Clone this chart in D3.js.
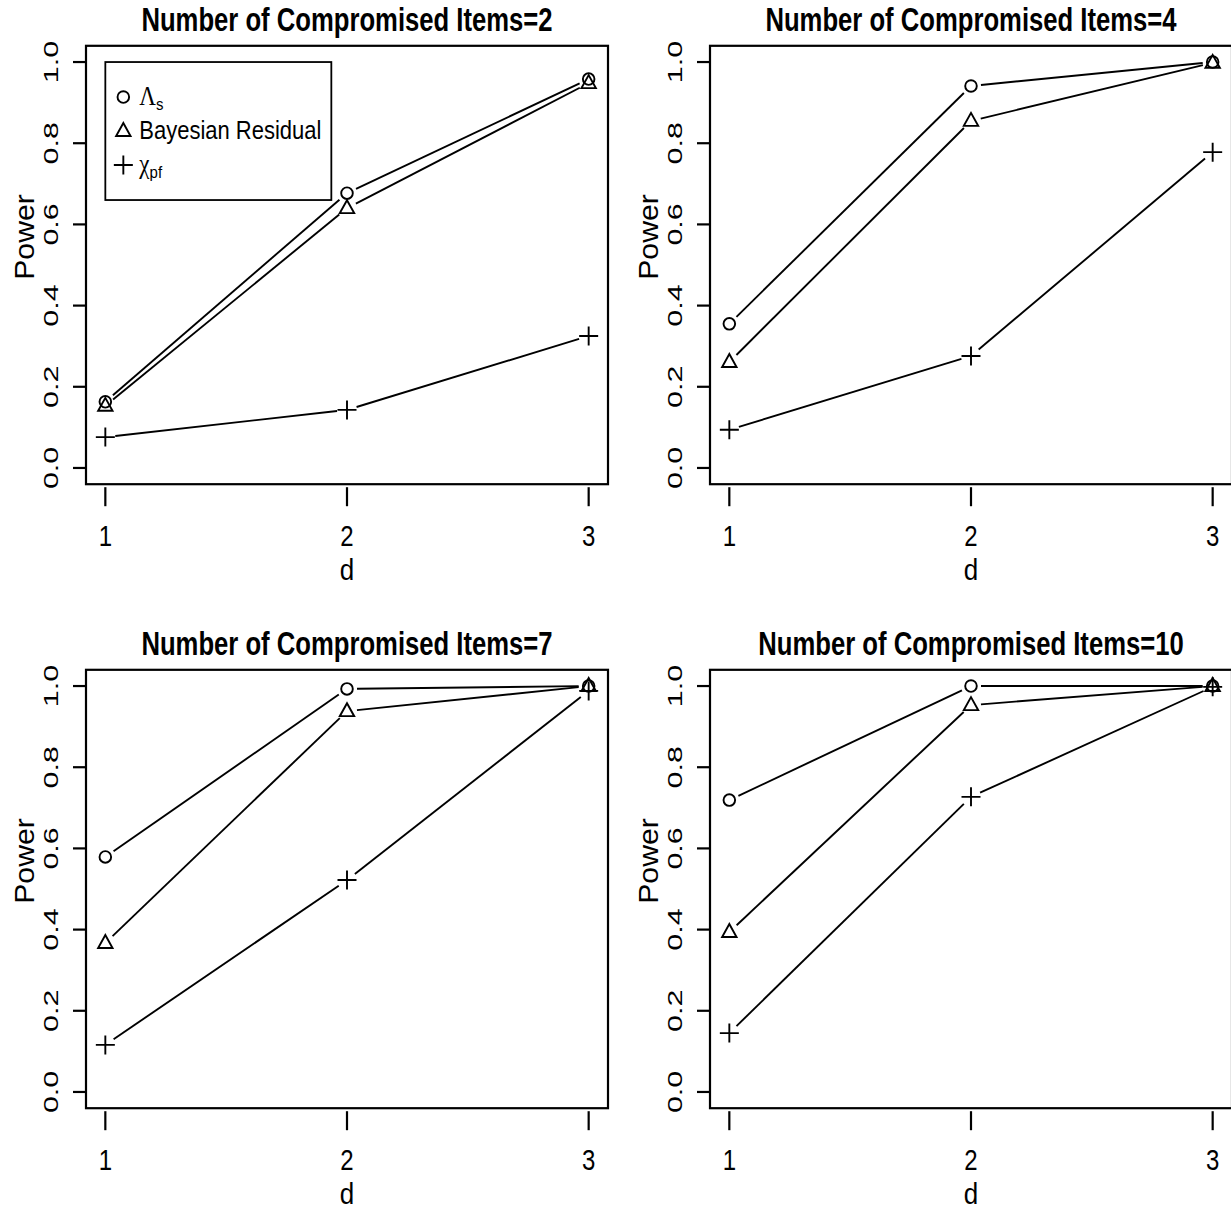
<!DOCTYPE html>
<html><head><meta charset="utf-8">
<script src="https://cdn.jsdelivr.net/npm/d3@7"></script>
<style>body{margin:0;background:#fff}svg{display:block}</style>
</head><body>
<script>
const dValues = [1, 2, 3];
const panelTitles = ["Number of Compromised Items=2","Number of Compromised Items=4","Number of Compromised Items=7","Number of Compromised Items=10"];
const lambdaS = [[0.163,0.677,0.958],[0.355,0.941,1.0],[0.579,0.993,1.0],[0.719,1.0,1.0]];
const bayesRes = [[0.153,0.640,0.948],[0.261,0.855,0.998],[0.367,0.938,1.0],[0.394,0.953,1.0]];
const chiPf = [[0.076,0.143,0.325],[0.094,0.276,0.778],[0.116,0.522,0.988],[0.145,0.727,0.998]];
const yTicks = [0.0,0.2,0.4,0.6,0.8,1.0];
const xTicks = [1,2,3];
const seriesNames = ["Λ","Bayesian Residual","χ"];
const seriesSubs = ["s","","pf"];
const seriesShapes = ["circle","triangle","plus"];

const W=1231,H=1206;
const svg=d3.select("body").append("svg").attr("width",W).attr("height",H);
const FONT="'Liberation Sans', Arial, Helvetica, sans-serif";

function txt(g,x,y,s,o){
  const t=g.append("text").text(s)
    .attr("font-family",o.family||FONT).attr("font-size",o.size)
    .attr("font-weight",o.weight||"normal").attr("text-anchor",o.anchor||"middle")
    .attr("fill","#000");
  const sx=o.sx||1, sy=o.sy||1;
  if(o.rotate){
    t.attr("transform",`translate(${x},${y}) scale(${sx},${sy}) rotate(-90)`);
  } else {
    t.attr("transform",`translate(${x},${y}) scale(${sx},${sy})`);
  }
  return t;
}

const SW=1.9;
function symbol(g,shape,cx,cy){
  if(shape==="circle"){
    g.append("circle").attr("cx",cx).attr("cy",cy).attr("r",5.8)
      .attr("fill","none").attr("stroke","#000").attr("stroke-width",SW);
  } else if(shape==="triangle"){
    const s=8;
    g.append("path").attr("d",`M${cx},${cy-s} L${cx+s*0.9},${cy+s*0.62} L${cx-s*0.9},${cy+s*0.62} Z`)
      .attr("fill","none").attr("stroke","#000").attr("stroke-width",SW);
  } else {
    const s=9.5;
    g.append("path").attr("d",`M${cx-s},${cy} H${cx+s} M${cx},${cy-s} V${cy+s}`)
      .attr("fill","none").attr("stroke","#000").attr("stroke-width",SW);
  }
}

const panelW=624, panelH=624;
const plotL=86, plotR=608, plotT=45.8, plotB=484.2;

panelTitles.forEach((title,pi)=>{
  const ox=(pi%2)*panelW, oy=Math.floor(pi/2)*panelH;
  const g=svg.append("g").attr("transform",`translate(${ox},${oy})`);
  const x=d3.scaleLinear().domain([0.92,3.08]).range([plotL,plotR]);
  const y=d3.scaleLinear().domain([-0.04,1.04]).range([plotB,plotT]);

  // box
  g.append("rect").attr("x",plotL).attr("y",plotT).attr("width",plotR-plotL).attr("height",plotB-plotT)
    .attr("fill","none").attr("stroke","#000").attr("stroke-width",2.2);

  // y axis ticks
  yTicks.forEach(v=>{
    g.append("line").attr("x1",plotL-13).attr("x2",plotL).attr("y1",y(v)).attr("y2",y(v))
      .attr("stroke","#000").attr("stroke-width",2.2);
    txt(g,58,y(v),v.toFixed(1),{size:21,rotate:true,sy:1.45});
  });
  // x axis ticks
  xTicks.forEach(v=>{
    g.append("line").attr("x1",x(v)).attr("x2",x(v)).attr("y1",plotB+3).attr("y2",plotB+22)
      .attr("stroke","#000").attr("stroke-width",2.2);
    txt(g,x(v),546,String(v),{size:24,sy:1.2});
  });
  txt(g,(plotL+plotR)/2,580,"d",{size:26,sy:1.15});
  txt(g,34,y(0.5)-28,"Power",{size:27,rotate:true,sy:1.12});
  txt(g,(plotL+plotR)/2,31,title,{size:27,weight:"bold",sx:0.95,sy:1.2});

  const seriesData=[lambdaS[pi],bayesRes[pi],chiPf[pi]];
  seriesData.forEach((vals,si)=>{
    const pts=dValues.map((d,i)=>[x(d),y(vals[i])]);
    for(let i=0;i<pts.length-1;i++){
      const [x1,y1]=pts[i],[x2,y2]=pts[i+1];
      const dx=x2-x1,dy=y2-y1,L=Math.hypot(dx,dy),gap=10;
      if(L>2*gap){
        g.append("line").attr("x1",x1+dx/L*gap).attr("y1",y1+dy/L*gap)
          .attr("x2",x2-dx/L*gap).attr("y2",y2-dy/L*gap)
          .attr("stroke","#000").attr("stroke-width",SW);
      }
    }
    pts.forEach(p=>symbol(g,seriesShapes[si],p[0],p[1]));
  });

  if(pi===0){
    const lx=x(1), ly=y(1);
    g.append("rect").attr("x",lx).attr("y",ly).attr("width",226).attr("height",138)
      .attr("fill","#fff").attr("stroke","#000").attr("stroke-width",1.8);
    seriesNames.forEach((nm,si)=>{
      const cy=ly+35+si*34;
      symbol(g,seriesShapes[si],lx+18,cy);
      const t=g.append("text").attr("transform",`translate(${lx+34},${cy+8}) scale(1,1.15)`)
        .attr("font-size",22).attr("font-family",FONT).attr("fill","#000");
      if(si===1){ t.text(nm); }
      else {
        t.append("tspan").attr("font-family","'Liberation Serif','DejaVu Serif',serif").attr("font-size",23).text(nm);
        t.append("tspan").attr("font-size",15).attr("dy",4).text(seriesSubs[si]);
      }
    });
  }
});
</script>
</body></html>
